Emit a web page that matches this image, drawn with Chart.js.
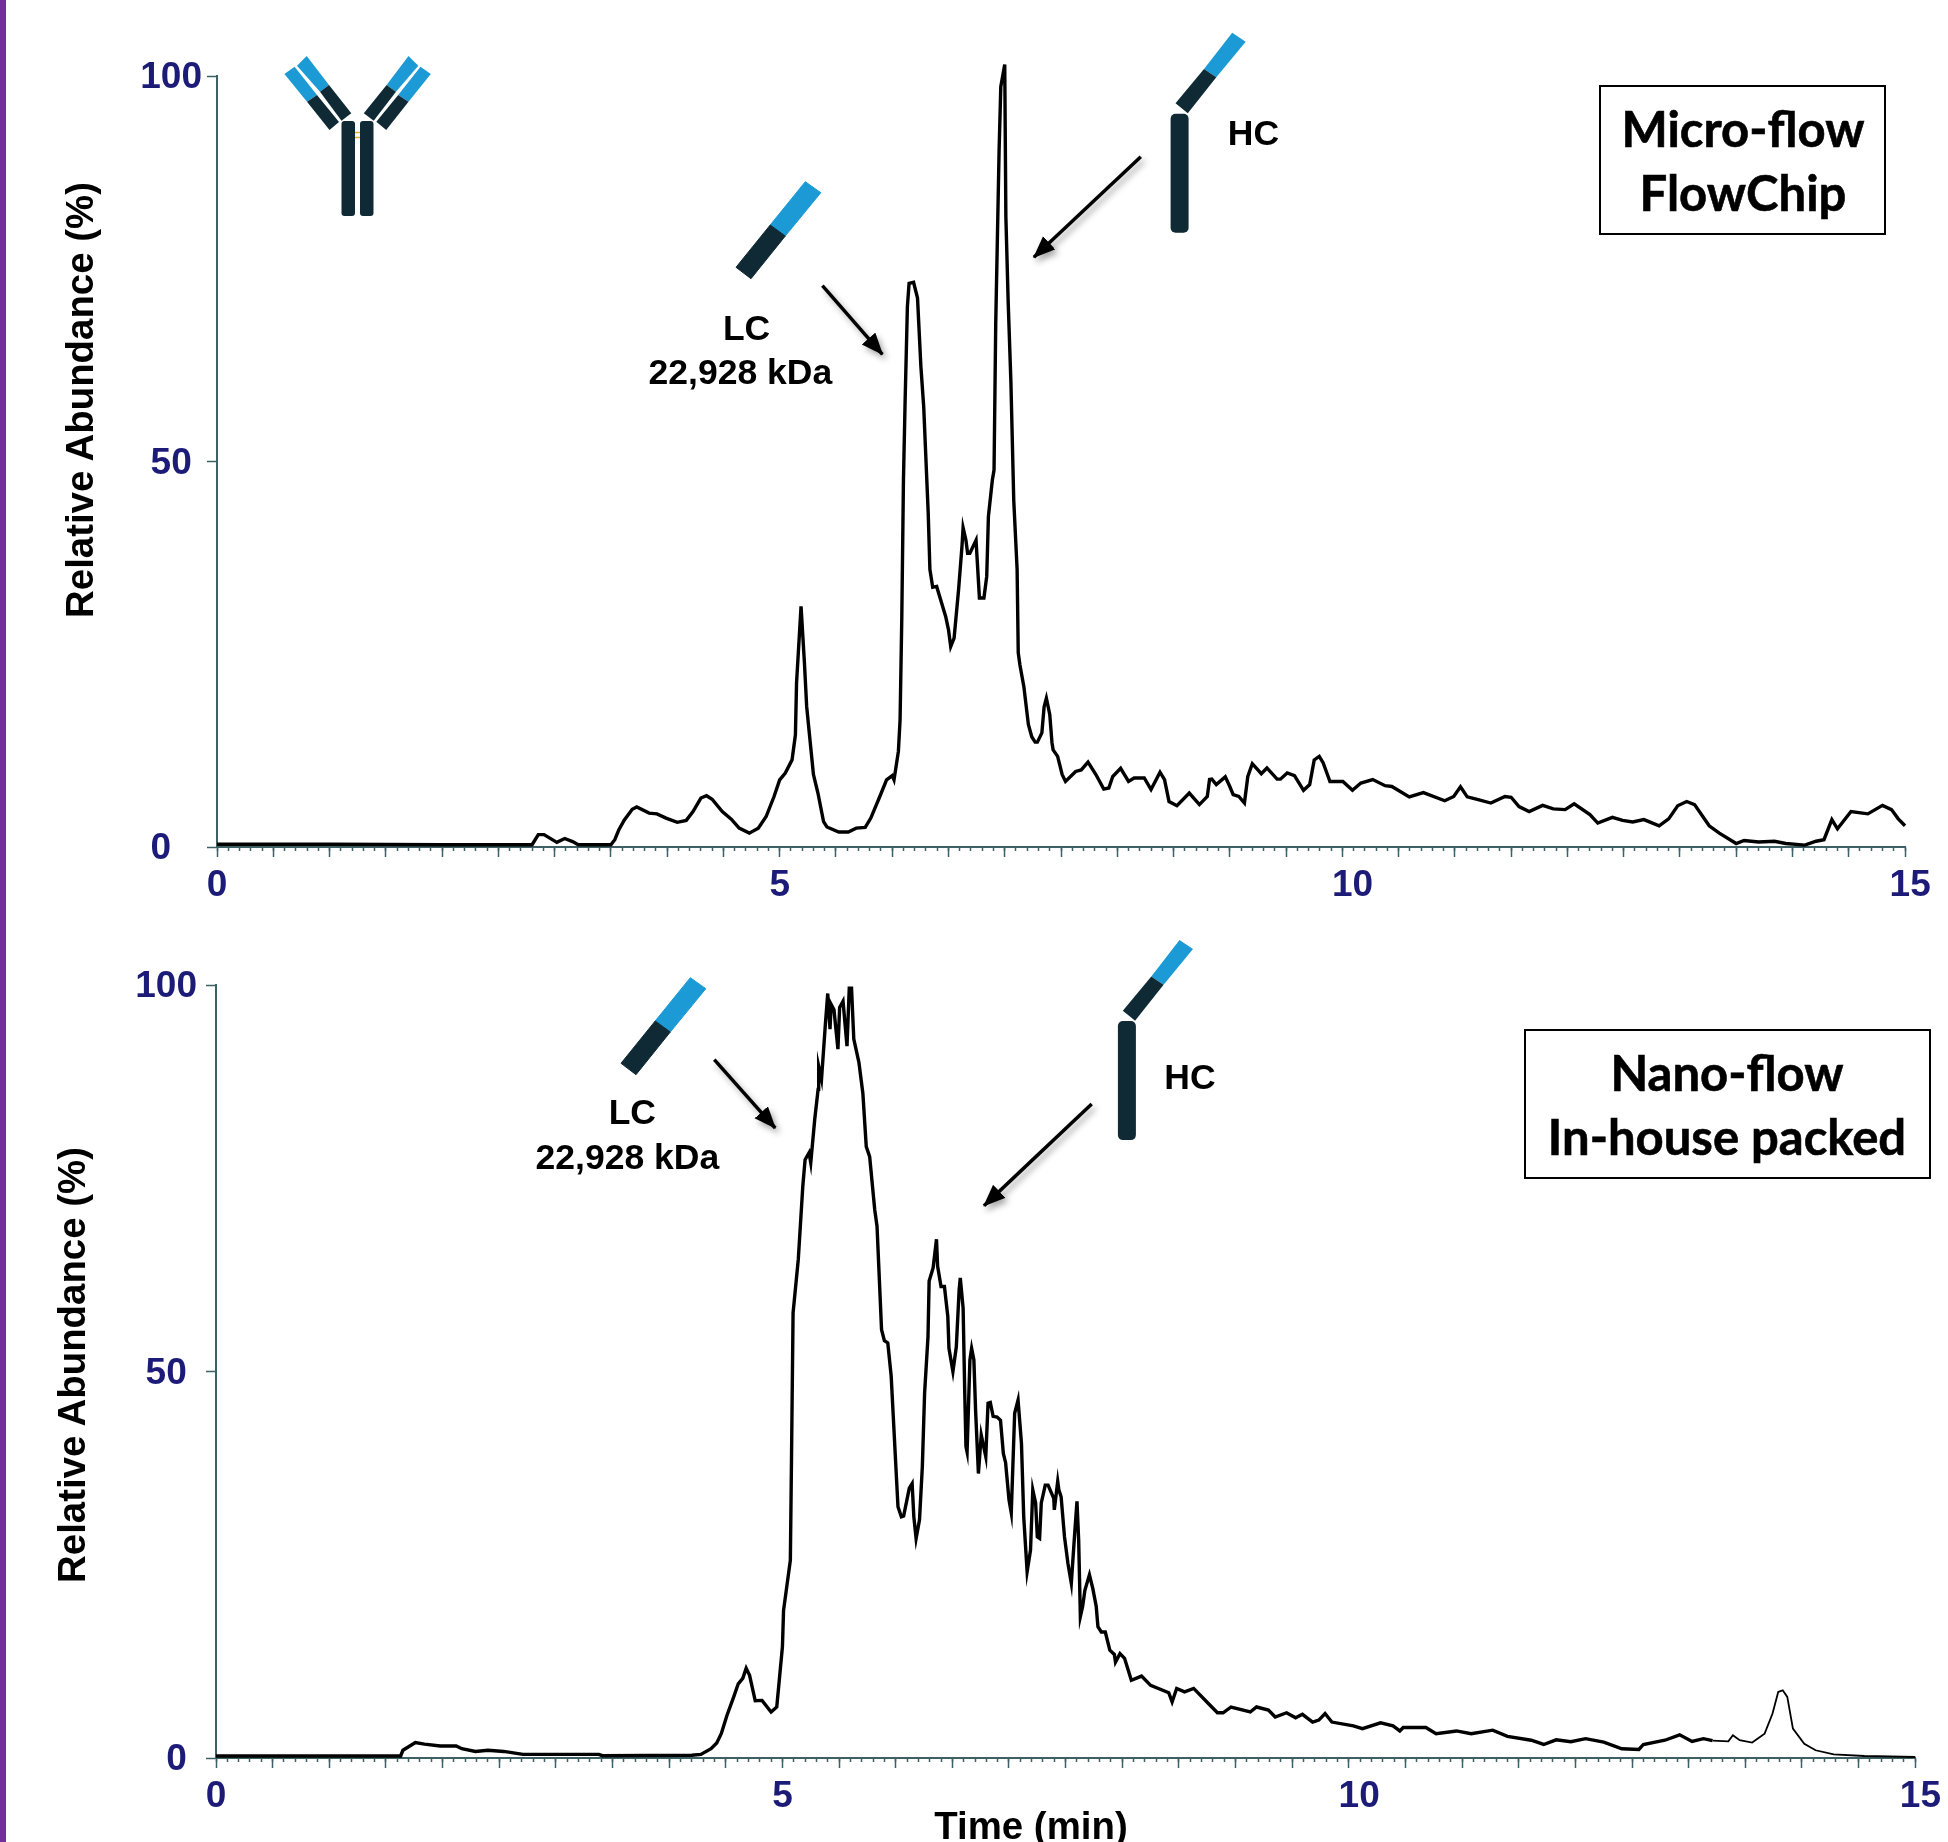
<!DOCTYPE html>
<html>
<head>
<meta charset="utf-8">
<title>Micro-flow vs Nano-flow</title>
<script src="https://cdn.jsdelivr.net/npm/chart.js@4/dist/chart.umd.min.js"></script>
<style>
  html, body { margin: 0; padding: 0; background: #fff; }
  #page { position: relative; width: 1948px; height: 1842px; overflow: hidden; }
  #strip { position: absolute; left: 0; top: 0; width: 6px; height: 1842px; background: #7030a0; }
  canvas { position: absolute; left: 0; }
  #art { position: absolute; left: 0; top: 0; }
  .t { position: absolute; transform: translate(-50%, -50%); white-space: nowrap;
       font-family: "Liberation Sans", Arial, sans-serif; font-weight: 700; color: #000; }
  .lab { font-size: 35.5px; }
  .ax { font-size: 38.4px; }
  .rot { transform: translate(-50%, -50%) rotate(-90deg); }
  .box { position: absolute; border: 2px solid #000; box-sizing: border-box; background: #fff; }
  .name { font-family: Lato, sans-serif; font-size: 49px; -webkit-text-stroke: 0.6px #000; }
</style>
</head>
<body>
<div id="page">
  <div id="strip"></div>
  <canvas id="topChart" width="1948" height="920" style="top:0"></canvas>
  <canvas id="bottomChart" width="1948" height="922" style="top:920px"></canvas>

  <svg id="art" width="1948" height="1842" viewBox="0 0 1948 1842">
    <defs>
      <filter id="soft" x="-30%" y="-30%" width="170%" height="170%">
        <feDropShadow dx="3" dy="4" stdDeviation="3" flood-color="#000" flood-opacity="0.35"/>
      </filter>
      <marker id="head" markerUnits="userSpaceOnUse" markerWidth="24" markerHeight="20" refX="21" refY="9" orient="auto">
        <path d="M0,0 L22,9 L0,18 Z" fill="#000"/>
      </marker>
      <g id="chainLC">
        <polygon points="805.3,181.7 820.8,192.7 785.3,236 770.2,225" fill="#1b9ad6" stroke="#1b9ad6" stroke-width="1" stroke-linejoin="round"/>
        <polygon points="770.2,225 785.3,236 751,278.7 736,267.3" fill="#102a35" stroke="#102a35" stroke-width="1" stroke-linejoin="round"/>
      </g>
      <g id="chainHC">
        <polygon points="1232.2,32.7 1245.7,41.7 1216.3,77.3 1204,69" fill="#1b9ad6"/>
        <polygon points="1204,69 1216.3,77.3 1187.8,113.3 1175.5,103.3" fill="#102a35"/>
        <rect x="1170.6" y="113.7" width="18" height="119" rx="5" fill="#102a35"/>
      </g>
    </defs>

    <!-- whole antibody -->
    <polygon points="284.4,74 294.6,66.7 317,95 307,101.7" fill="#1b9ad6"/>
    <polygon points="307,101.7 317,95 339,122 329.5,130" fill="#102a35"/>
    <polygon points="297,65.7 306.7,56 329,85 320,91.7" fill="#1b9ad6"/>
    <polygon points="320,91.7 329,85 351.3,113.3 341.5,120.7" fill="#102a35"/>
    <polygon points="408.5,56 418.3,65.7 396,91.7 386.6,85" fill="#1b9ad6"/>
    <polygon points="386.6,85 396,91.7 373.7,120.7 363.8,113.3" fill="#102a35"/>
    <polygon points="420.5,66.7 430.8,74 408.5,101.7 398.2,95" fill="#1b9ad6"/>
    <polygon points="398.2,95 408.5,101.7 386.2,130 376.3,121.7" fill="#102a35"/>
    <rect x="341.5" y="121" width="13.5" height="95" rx="3" fill="#102a35"/>
    <rect x="360" y="121" width="13.5" height="95" rx="3" fill="#102a35"/>
    <path d="M355,132.5 H360 M355,137.5 H360" stroke="#f5a623" stroke-width="1.5"/>

    <!-- fragments and arrows, top panel -->
    <use href="#chainLC"/>
    <use href="#chainHC"/>
    <g filter="url(#soft)">
      <line x1="1140.8" y1="156.7" x2="1033.9" y2="257.3" stroke="#000" stroke-width="3.5" marker-end="url(#head)"/>
      <line x1="822.4" y1="285.7" x2="882.4" y2="354.3" stroke="#000" stroke-width="3.5" marker-end="url(#head)"/>
    </g>

    <!-- bottom panel -->
    <use href="#chainLC" transform="translate(-115,796)"/>
    <use href="#chainHC" transform="translate(-52.7,907.4)"/>
    <g filter="url(#soft)">
      <line x1="1091.7" y1="1104" x2="984" y2="1205.7" stroke="#000" stroke-width="3.5" marker-end="url(#head)"/>
      <line x1="714.3" y1="1059.7" x2="775.2" y2="1128" stroke="#000" stroke-width="3.5" marker-end="url(#head)"/>
    </g>
  </svg>

  <div class="t ax rot" style="left:80px;top:400px">Relative Abundance (%)</div>
  <div class="t ax rot" style="left:72px;top:1365px">Relative Abundance (%)</div>
  <div class="t ax" style="left:1031px;top:1826px">Time (min)</div>

  <div class="t lab" style="left:746.6px;top:328px">LC</div>
  <div class="t lab" style="left:740.4px;top:371.5px">22,928 kDa</div>
  <div class="t lab" style="left:1253.5px;top:133px">HC</div>
  <div class="t lab" style="left:632.3px;top:1112px">LC</div>
  <div class="t lab" style="left:627.4px;top:1156.6px">22,928 kDa</div>
  <div class="t lab" style="left:1190px;top:1077px">HC</div>

  <div class="box" style="left:1599px;top:85px;width:287px;height:150px"></div>
  <div class="t name" style="left:1743px;top:127.5px">Micro-flow</div>
  <div class="t name" style="left:1743px;top:191.5px">FlowChip</div>
  <div class="box" style="left:1523.5px;top:1029px;width:407px;height:150px"></div>
  <div class="t name" style="left:1727px;top:1071.5px">Nano-flow</div>
  <div class="t name" style="left:1727px;top:1135.5px">In-house packed</div>
</div>

<script>
// Values
const xLabels = [0, 5, 10, 15];
const yLabels = [0, 50, 100];

const microTime = [0, 1, 2, 2.8, 2.855, 2.906, 3.02, 3.09, 3.16, 3.21, 3.5, 3.535, 3.57, 3.62, 3.69, 3.73, 3.84, 3.91, 3.99, 4.09, 4.17, 4.23, 4.3, 4.35, 4.4, 4.49, 4.57, 4.64, 4.73, 4.81, 4.88, 4.95, 5, 5.05, 5.11, 5.14, 5.15, 5.19, 5.22, 5.24, 5.3, 5.34, 5.39, 5.42, 5.525, 5.61, 5.68, 5.76, 5.81, 5.89, 5.95, 6, 6.016, 6.055, 6.07, 6.085, 6.1, 6.115, 6.135, 6.15, 6.19, 6.225, 6.255, 6.28, 6.32, 6.335, 6.36, 6.395, 6.475, 6.5, 6.52, 6.55, 6.59, 6.62, 6.63, 6.655, 6.67, 6.69, 6.745, 6.775, 6.815, 6.84, 6.855, 6.89, 6.905, 6.92, 6.95, 6.965, 7, 7.01, 7.03, 7.055, 7.08, 7.11, 7.12, 7.135, 7.17, 7.21, 7.24, 7.27, 7.29, 7.33, 7.35, 7.37, 7.4, 7.42, 7.43, 7.47, 7.51, 7.54, 7.63, 7.68, 7.74, 7.81, 7.88, 7.925, 7.96, 8.03, 8.1, 8.15, 8.24, 8.3, 8.38, 8.42, 8.46, 8.53, 8.64, 8.73, 8.8, 8.82, 8.84, 8.88, 8.96, 9, 9.03, 9.08, 9.13, 9.16, 9.2, 9.28, 9.33, 9.42, 9.45, 9.51, 9.575, 9.655, 9.71, 9.75, 9.795, 9.83, 9.89, 10.005, 10.09, 10.165, 10.27, 10.38, 10.44, 10.595, 10.72, 10.91, 10.99, 11.05, 11.11, 11.19, 11.32, 11.445, 11.5, 11.57, 11.66, 11.78, 11.875, 11.98, 12.06, 12.2, 12.27, 12.4, 12.49, 12.58, 12.68, 12.815, 12.9, 12.98, 13.06, 13.13, 13.26, 13.35, 13.5, 13.57, 13.7, 13.84, 13.94, 14.11, 14.21, 14.28, 14.35, 14.4, 14.52, 14.67, 14.8, 14.88, 14.94, 15];
const microAbundance = [0.35, 0.35, 0.3, 0.3, 1.6, 1.6, 0.6, 1.1, 0.7, 0.3, 0.3, 0.95, 2.2, 3.5, 4.9, 5.2, 4.4, 4.3, 3.75, 3.2, 3.45, 4.6, 6.35, 6.65, 6.2, 4.6, 3.6, 2.45, 1.8, 2.45, 3.95, 6.55, 8.7, 9.6, 11.3, 14.55, 21.3, 31.2, 23.9, 18.2, 9.4, 7, 3.3, 2.6, 1.95, 1.95, 2.45, 2.55, 3.75, 6.55, 8.7, 9.25, 8.7, 12.4, 16.5, 29.5, 47.6, 58, 70.1, 73.1, 73.25, 71.2, 62.3, 57.1, 43.3, 36, 33.7, 33.8, 29.9, 28.2, 26, 27.1, 33.4, 39, 41.4, 39.8, 38.1, 38.1, 39.8, 32.3, 32.3, 35.1, 42.9, 47.6, 48.9, 67.9, 90.4, 98.6, 101.5, 81.8, 71, 60.2, 45, 36, 25.2, 23.6, 20.8, 15.9, 14.3, 13.6, 13.6, 14.8, 18.2, 19.3, 17.2, 13.5, 12.6, 11.75, 9.4, 8.5, 9.8, 10, 11, 9.4, 7.5, 7.65, 9.15, 10.2, 8.5, 8.95, 8.95, 7.45, 9.7, 8.75, 5.9, 5.35, 7, 5.5, 6.55, 8.75, 8.8, 8.1, 9.1, 7.85, 6.8, 6.55, 5.7, 9.15, 10.8, 9.5, 10.25, 8.8, 8.8, 9.6, 9.25, 7.35, 8.1, 11.3, 11.75, 10.9, 8.5, 8.5, 7.35, 8.3, 8.75, 7.95, 7.85, 6.5, 7.05, 6, 6.55, 7.8, 6.5, 6.2, 5.7, 6.55, 6.45, 5.25, 4.6, 5.4, 4.95, 4.85, 5.6, 4.2, 3.1, 3.85, 3.45, 3.25, 3.55, 2.75, 3.65, 5.35, 5.9, 5.5, 2.75, 1.8, 0.45, 0.85, 0.65, 0.75, 0.45, 0.25, 0.75, 0.95, 3.55, 2.35, 4.6, 4.3, 5.4, 4.85, 3.65, 2.75];

const nanoTime = [0, 0.8, 1.63, 1.65, 1.76, 1.84, 1.98, 2.12, 2.17, 2.29, 2.4, 2.54, 2.71, 3.38, 3.41, 4.2, 4.28, 4.37, 4.42, 4.46, 4.51, 4.57, 4.61, 4.65, 4.68, 4.71, 4.76, 4.82, 4.9, 4.95, 5, 5.01, 5.07, 5.08, 5.094, 5.14, 5.18, 5.2, 5.235, 5.25, 5.285, 5.315, 5.32, 5.345, 5.38, 5.4, 5.42, 5.43, 5.455, 5.49, 5.505, 5.535, 5.57, 5.59, 5.61, 5.63, 5.675, 5.71, 5.74, 5.77, 5.815, 5.835, 5.875, 5.9, 5.93, 5.96, 6, 6.02, 6.05, 6.07, 6.12, 6.145, 6.16, 6.18, 6.21, 6.235, 6.255, 6.285, 6.295, 6.33, 6.36, 6.37, 6.4, 6.43, 6.46, 6.47, 6.505, 6.535, 6.56, 6.57, 6.595, 6.61, 6.62, 6.63, 6.655, 6.67, 6.69, 6.705, 6.73, 6.755, 6.795, 6.815, 6.835, 6.86, 6.895, 6.925, 6.95, 6.97, 7, 7.02, 7.05, 7.08, 7.11, 7.13, 7.16, 7.19, 7.21, 7.235, 7.25, 7.27, 7.285, 7.32, 7.345, 7.395, 7.4, 7.43, 7.44, 7.46, 7.49, 7.52, 7.55, 7.58, 7.6, 7.615, 7.63, 7.65, 7.67, 7.71, 7.74, 7.77, 7.785, 7.815, 7.85, 7.89, 7.93, 7.94, 7.98, 8.02, 8.08, 8.17, 8.25, 8.41, 8.44, 8.48, 8.55, 8.63, 8.76, 8.84, 8.89, 8.96, 9.13, 9.185, 9.29, 9.35, 9.45, 9.53, 9.59, 9.68, 9.735, 9.79, 9.85, 10.04, 10.12, 10.28, 10.39, 10.45, 10.48, 10.68, 10.77, 10.95, 11.08, 11.27, 11.4, 11.61, 11.72, 11.83, 11.96, 12.09, 12.25, 12.41, 12.56, 12.6, 12.79, 12.92, 13.03, 13.13, 13.21, 13.35, 13.39, 13.45, 13.56, 13.67, 13.74, 13.79, 13.83, 13.87, 13.92, 14.02, 14.12, 14.28, 14.55, 15];
const nanoAbundance = [0.26, 0.26, 0.26, 1, 2, 1.8, 1.55, 1.55, 1.2, 0.85, 1, 0.85, 0.47, 0.47, 0.3, 0.35, 0.47, 1.2, 1.95, 3.15, 5.5, 7.9, 9.6, 10.3, 11.6, 10.7, 7.4, 7.45, 5.95, 6.6, 14.4, 19.1, 25.6, 38.6, 57.6, 64.5, 74, 77.4, 78.3, 77, 82.6, 86.5, 89.5, 87.8, 95.1, 98.9, 94.3, 97.5, 96.8, 91.7, 97.1, 97.9, 92.1, 99.6, 99.6, 93, 90, 86, 79.1, 77.8, 70.9, 68.8, 55.4, 54, 53.7, 49.4, 38.1, 32.5, 31.2, 31.3, 34.9, 35.5, 31.2, 28.4, 30.8, 37.7, 47.2, 54.5, 61.7, 63.4, 67.1, 63.6, 61, 61, 57.1, 53, 50, 53.2, 60.6, 62.1, 58.2, 46.8, 40.3, 39.6, 51.5, 53, 51.5, 45, 36.8, 41.8, 39, 45.9, 46, 44.2, 44.1, 43.7, 39.4, 38.2, 33.4, 31.7, 44.6, 46.3, 40.7, 31.2, 24.1, 26.9, 34.7, 33, 28.6, 28.4, 33, 35.3, 35.3, 33.6, 32.1, 35.8, 34.7, 33.8, 28.6, 25.2, 22.6, 29.1, 33.2, 28.2, 18.3, 19.6, 21.7, 23.7, 21.9, 19.6, 17, 16.3, 16.3, 13.95, 13.4, 12.4, 13.5, 12.9, 10.05, 10.6, 9.4, 8.45, 7.25, 9, 8.55, 9, 7.05, 5.85, 5.85, 6.6, 5.95, 6.6, 6.2, 5.3, 5.85, 5.2, 5.65, 4.65, 4.9, 5.75, 4.65, 4.15, 3.8, 4.55, 4.15, 3.5, 3.95, 3.95, 3.15, 3.5, 3.15, 3.6, 2.8, 2.3, 1.75, 2.35, 2.1, 2.5, 2.05, 1.2, 1.1, 1.75, 2.3, 3, 2.15, 2.5, 2.25, 2.15, 2.95, 2.3, 2, 3.15, 5.75, 8.55, 8.75, 7.9, 3.8, 1.85, 1, 0.47, 0.26, 0.13];

const axisColor = '#3d6065';
const tickFont = { family: '"Liberation Sans", Arial, sans-serif', size: 37, weight: 'bold' };
const nbsp = '\u00a0';

function toPoints(times, values) {
    return times.map((t, i) => ({ x: t, y: values[i] }));
}

function drawChart(id, times, values, box) {
    const canvas = document.getElementById(id);
    new Chart(canvas.getContext('2d'), {
        type: 'line',
        data: {
            datasets: [{
                data: toPoints(times, values),
                borderColor: '#000',
                borderWidth: 3.4,
                pointRadius: 0,
                tension: 0,
                clip: false,
                borderJoinStyle: 'miter',
                segment: { borderWidth: ctx => (ctx.p0.parsed.x >= box.thinFrom ? 1.8 : 3.4) }
            }]
        },
        options: {
            responsive: false,
            animation: false,
            layout: { padding: { left: 0, top: box.top, right: canvas.width - box.right, bottom: 0 } },
            plugins: { legend: { display: false }, tooltip: { enabled: false } },
            scales: {
                x: {
                    type: 'linear', min: 0, max: 15, weight: 2,
                    afterFit: s => { s.height = canvas.height - box.bottom; },
                    border: { color: axisColor, width: 2 },
                    grid: { drawOnChartArea: false, color: axisColor, tickLength: 10, tickWidth: 1.5 },
                    ticks: {
                        stepSize: 0.5, autoSkip: false, maxRotation: 0, padding: 7,
                        color: '#1c1c78', font: tickFont,
                        // the original labels sit a little right of their ticks past 5
                        callback: v => (xLabels.includes(v) ? nbsp.repeat(v === 10 ? 2 : v === 15 ? 1 : 0) + v : '')
                    }
                },
                xMinor: {
                    type: 'linear', axis: 'x', position: 'bottom', min: 0, max: 15, weight: 1,
                    afterFit: s => { s.height = 0; },
                    border: { display: false },
                    grid: { drawOnChartArea: false, color: axisColor, tickLength: 4, tickWidth: 1.5 },
                    ticks: { stepSize: 0.1, autoSkip: false, maxRotation: 0, display: false }
                },
                y: {
                    min: 0, max: 100,
                    afterFit: s => { s.width = box.left; },
                    border: { color: axisColor, width: 2 },
                    grid: { drawOnChartArea: false, color: axisColor, tickLength: 10, tickWidth: 1.5 },
                    ticks: {
                        stepSize: 50, padding: box.yPadding, labelOffset: 2, color: '#1c1c78', font: tickFont,
                        callback: v => (yLabels.includes(v) ? v + nbsp.repeat(box.yShift[v] || 0) : '')
                    }
                }
            }
        }
    });
}

drawChart('topChart', microTime, microAbundance,
    { left: 217, right: 1905, top: 76, bottom: 847, thinFrom: 99, yPadding: 5, yShift: { 0: 3, 50: 1 } });
drawChart('bottomChart', nanoTime, nanoAbundance,
    { left: 216, right: 1916, top: 65, bottom: 838, thinFrom: 13.2, yPadding: 9, yShift: { 0: 1, 50: 1 } });
</script>
</body>
</html>
